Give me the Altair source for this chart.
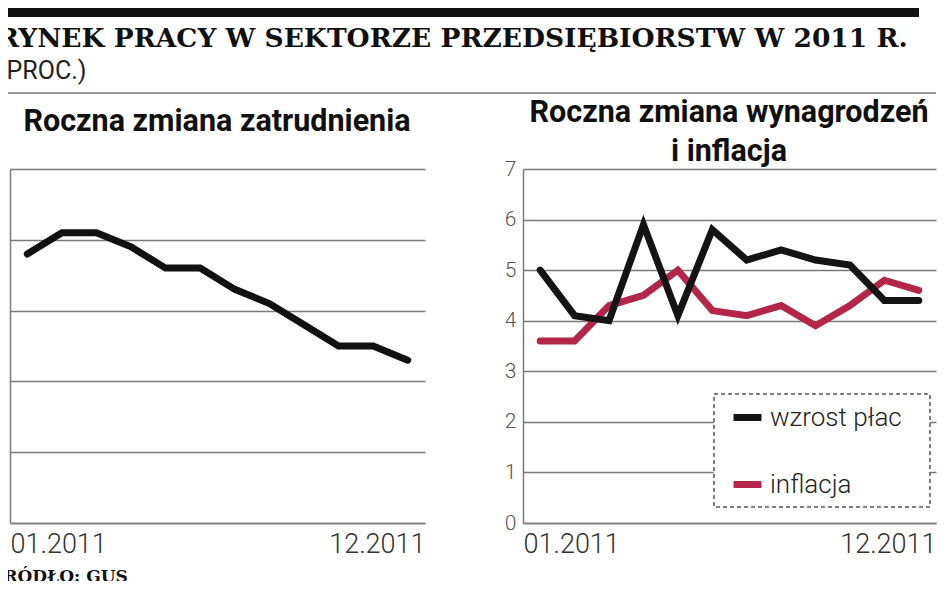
import altair as alt
import pandas as pd

# ---- data ----
months = list(range(1, 13))
employment = [3.8, 4.1, 4.1, 3.9, 3.6, 3.6, 3.3, 3.1, 2.8, 2.5, 2.5, 2.3]
wages = [5.0, 4.1, 4.0, 5.9, 4.1, 5.8, 5.2, 5.4, 5.2, 5.1, 4.4, 4.4]
inflation = [3.6, 3.6, 4.3, 4.5, 5.0, 4.2, 4.1, 4.3, 3.9, 4.3, 4.8, 4.6]
tick_labels = ["01.2011", "12.2011"]
series_names = ["wzrost płac", "inflacja"]
series_colors = ["#141414", "#b3264a"]
left_ticks = [0, 1, 2, 3, 4, 5]
right_ticks = [0, 1, 2, 3, 4, 5, 6, 7]

TITLE = "RYNEK PRACY W SEKTORZE PRZEDSIĘBIORSTW W 2011 R."
UNIT = "(PROC.)"
SUB_LEFT = "Roczna zmiana zatrudnienia"
SUB_RIGHT = ["Roczna zmiana wynagrodzeń", "i inflacja"]
SOURCE = "ŹRÓDŁO: GUS"

# ---- styles ----
SANS = "Roboto, Lato, sans-serif"
SERIF = "DejaVu Serif, Liberation Serif, serif"
GRAY = "#7a7a7a"

left_df = pd.DataFrame({"month": months, "value": employment})
right_df = pd.concat([
    pd.DataFrame({"month": months, "value": inflation, "series": series_names[1]}),
    pd.DataFrame({"month": months, "value": wages, "series": series_names[0]}),
])

label_expr = f"datum.value < 6 ? '{tick_labels[0]}' : '{tick_labels[1]}'"


def x_enc():
    return alt.X(
        "month:Q",
        scale=alt.Scale(domain=[0.5, 12.5], nice=False, zero=False),
        axis=alt.Axis(values=[0.5, 12.5], labelExpr=label_expr, labelFlush=True,
                      grid=False, ticks=False, domainColor=GRAY, domainWidth=1.5,
                      title=None, labelFontSize=27, labelFont=SANS,
                      labelFontWeight=300, labelColor="#333", labelPadding=8),
    )


def y_enc(domain, ticks):
    return alt.Y(
        "value:Q",
        scale=alt.Scale(domain=domain, nice=False),
        axis=alt.Axis(values=ticks, grid=True, gridColor=GRAY, gridWidth=1.5,
                      ticks=False, domainColor=GRAY, domainWidth=1.5,
                      labelFontSize=21, labelFont=SANS, labelFontWeight=300,
                      labelColor="#555", labelPadding=7, title=None),
    )


line_kw = dict(strokeWidth=7, strokeCap="round", strokeMiterLimit=3)

left = alt.Chart(left_df).mark_line(color="#111", **line_kw).encode(
    x=x_enc(), y=y_enc([0, 5], left_ticks)
).properties(width=415, height=354)

color_scale = alt.Scale(domain=series_names, range=series_colors)
legend = alt.Legend(orient="none", legendX=701, legendY=387, title=None,
                    symbolType="stroke", symbolStrokeWidth=7, symbolSize=784,
                    symbolOffset=9,
                    labelFontSize=26, labelFont=SANS, labelFontWeight=300,
                    labelColor="#222", labelOffset=5, rowPadding=35,
                    padding=10)

right_base = alt.Chart(right_df).mark_line(**line_kw).encode(
    x=x_enc(), y=y_enc([0, 7], right_ticks),
    color=alt.Color("series:N", scale=color_scale, legend=legend),
)
one = pd.DataFrame({"a": [0]})
legend_frame = alt.Chart(one).mark_rect(
    fill="white", stroke="#555", strokeDash=[4, 3], strokeWidth=1.5
).encode(x=alt.value(191), x2=alt.value(407), y=alt.value(225), y2=alt.value(338))

right = alt.layer(
    right_base.transform_filter(alt.datum.series == series_names[1]),
    right_base.transform_filter(alt.datum.series == series_names[0]),
    legend_frame,
).properties(width=413, height=354)


def txt(s, gx, gy, **kw):
    return alt.Chart(pd.DataFrame({"t": [s]})).mark_text(**kw).encode(
        text="t:N", x=alt.value(gx), y=alt.value(gy))


header = alt.layer(
    alt.Chart(one).mark_rect(color="#111").encode(
        x=alt.value(-20), x2=alt.value(909), y=alt.value(0), y2=alt.value(14)),
    alt.Chart(one).mark_rule(color=GRAY, strokeWidth=1.5).encode(
        x=alt.value(-20), x2=alt.value(926), y=alt.value(90)),
    txt(TITLE, -13, 44, align="left", baseline="alphabetic", font=SERIF,
        fontWeight="bold", fontSize=26.5, color="#111"),
    txt(UNIT, -12, 76, align="left", baseline="alphabetic", font=SANS,
        fontSize=25, color="#222"),
    txt(SUB_LEFT, 207, 119, align="center", baseline="middle", font=SANS,
        fontWeight="bold", fontSize=30.5, color="#111"),
    txt(SUB_RIGHT[0], 719, 110, align="center", baseline="middle", font=SANS,
        fontWeight="bold", fontSize=30.5, color="#111"),
    txt(SUB_RIGHT[1], 719, 149, align="center", baseline="middle", font=SANS,
        fontWeight="bold", fontSize=30.5, color="#111"),
    txt(SOURCE, -19, 574, align="left", baseline="middle", font=SERIF,
        fontWeight="bold", fontSize=17, color="#111"),
).properties(width=900, height=166)

chart = alt.vconcat(
    header,
    alt.hconcat(left, right, spacing=98, bounds="flush"),
    spacing=0, bounds="flush",
).properties(
    padding={"left": -19, "top": -5, "right": 0, "bottom": -4},
).configure_view(stroke=None)

chart.save("out.html", embed_options={"renderer": "svg", "actions": False})
